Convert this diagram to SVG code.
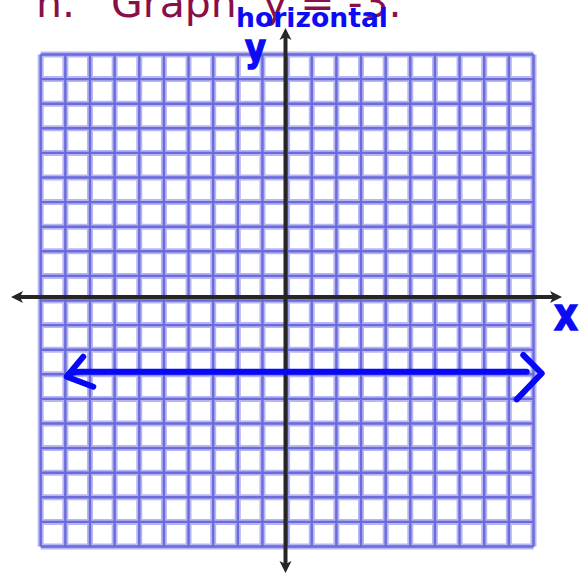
<svg xmlns="http://www.w3.org/2000/svg" width="581" height="576" viewBox="0 0 581 576">
<style>
.title{font-family:"DejaVu Sans","Liberation Sans",sans-serif;font-size:41px;fill:#8a0f48}
.ink{font-family:"DejaVu Sans","Liberation Sans",sans-serif;font-weight:bold;fill:#0b0bf5}
.halo{fill:none;stroke:#b6b6f2;stroke-width:6}
.core{fill:none;stroke:#6b6bdc;stroke-width:2.4}
.axis{stroke:#262626;stroke-width:4;fill:none}
.pen{stroke:#0808f8;stroke-width:6;fill:none;stroke-linecap:round;stroke-linejoin:round}
</style>
<defs>
<marker id="ah" markerUnits="userSpaceOnUse" markerWidth="14" markerHeight="14" viewBox="0 0 14 14" refX="4" refY="7" orient="auto-start-reverse">
<path d="M0,1 L12,7 L0,13 L3,7 Z" fill="#262626"/>
</marker>
</defs>
<rect width="581" height="576" fill="#ffffff"/>
<g id="title">
<text class="title" y="16.5"><tspan x="36">n.</tspan><tspan x="111">Graph</tspan><tspan x="263">y = -3.</tspan></text>
</g>
<g id="grid">
<path class="halo" d="M40.7 54.5V546.5M65.34 54.5V546.5M89.98 54.5V546.5M114.62 54.5V546.5M139.26 54.5V546.5M163.9 54.5V546.5M188.54 54.5V546.5M213.18 54.5V546.5M237.82 54.5V546.5M262.46 54.5V546.5M287.1 54.5V546.5M311.74 54.5V546.5M336.38 54.5V546.5M361.02 54.5V546.5M385.66 54.5V546.5M410.3 54.5V546.5M434.94 54.5V546.5M459.58 54.5V546.5M484.22 54.5V546.5M508.86 54.5V546.5M533.5 54.5V546.5M40.7 54.5H533.5M40.7 79.1H533.5M40.7 103.7H533.5M40.7 128.3H533.5M40.7 152.9H533.5M40.7 177.5H533.5M40.7 202.1H533.5M40.7 226.7H533.5M40.7 251.3H533.5M40.7 275.9H533.5M40.7 300.5H533.5M40.7 325.1H533.5M40.7 349.7H533.5M40.7 374.3H533.5M40.7 398.9H533.5M40.7 423.5H533.5M40.7 448.1H533.5M40.7 472.7H533.5M40.7 497.3H533.5M40.7 521.9H533.5M40.7 546.5H533.5"/>
<path class="core" d="M40.7 54.5V546.5M65.34 54.5V546.5M89.98 54.5V546.5M114.62 54.5V546.5M139.26 54.5V546.5M163.9 54.5V546.5M188.54 54.5V546.5M213.18 54.5V546.5M237.82 54.5V546.5M262.46 54.5V546.5M287.1 54.5V546.5M311.74 54.5V546.5M336.38 54.5V546.5M361.02 54.5V546.5M385.66 54.5V546.5M410.3 54.5V546.5M434.94 54.5V546.5M459.58 54.5V546.5M484.22 54.5V546.5M508.86 54.5V546.5M533.5 54.5V546.5M40.7 54.5H533.5M40.7 79.1H533.5M40.7 103.7H533.5M40.7 128.3H533.5M40.7 152.9H533.5M40.7 177.5H533.5M40.7 202.1H533.5M40.7 226.7H533.5M40.7 251.3H533.5M40.7 275.9H533.5M40.7 300.5H533.5M40.7 325.1H533.5M40.7 349.7H533.5M40.7 374.3H533.5M40.7 398.9H533.5M40.7 423.5H533.5M40.7 448.1H533.5M40.7 472.7H533.5M40.7 497.3H533.5M40.7 521.9H533.5M40.7 546.5H533.5"/>
</g>
<g id="axes">
<line class="axis" x1="19" y1="297" x2="554" y2="297" marker-start="url(#ah)" marker-end="url(#ah)"/>
<line class="axis" x1="285.5" y1="36" x2="285.5" y2="565" marker-start="url(#ah)" marker-end="url(#ah)"/>
</g>
<g id="graph-line">
<path class="pen" d="M68 375 Q72 371.7 80 371.7 L526.7 371.7"/>
<path class="pen" d="M83.3 356.7 L66.7 376.7 L93.3 386.7"/>
<path class="pen" d="M523.3 355 L541.7 373.3 L516.7 399.3"/>
</g>
<g id="labels">
<text class="ink" x="236" y="27" font-size="26" textLength="152" lengthAdjust="spacingAndGlyphs">horizontal</text>
<text class="ink" x="245" y="61" font-size="38" font-weight="normal" textLength="21" lengthAdjust="spacingAndGlyphs" stroke="#0b0bf5" stroke-width="1.5">y</text>
<text class="ink" x="554" y="330" font-size="46" font-weight="normal" textLength="24" lengthAdjust="spacingAndGlyphs" stroke="#0b0bf5" stroke-width="1.5">x</text>
</g>
</svg>
